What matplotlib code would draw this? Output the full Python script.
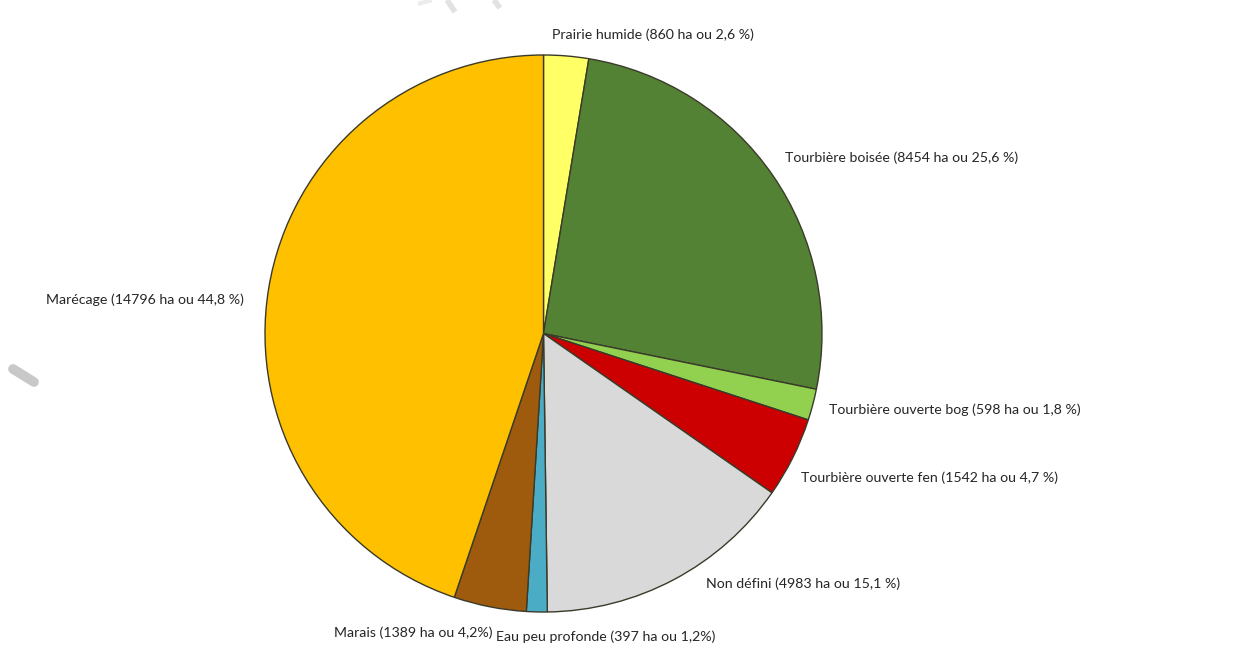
import matplotlib
matplotlib.use("Agg")
import matplotlib.pyplot as plt

categories = ["Prairie humide", "Tourbière boisée", "Tourbière ouverte bog",
              "Tourbière ouverte fen", "Non défini", "Eau peu profonde",
              "Marais", "Marécage"]
hectares = [860, 8454, 598, 1542, 4983, 397, 1389, 14796]
pct_labels = ["2,6 %", "25,6 %", "1,8 %", "4,7 %", "15,1 %", "1,2%", "4,2%", "44,8 %"]
colors = ["#FFFF66", "#548235", "#92D050", "#CC0000", "#D9D9D9", "#4BACC6",
          "#9E5B0E", "#FFC000"]

W, H = 1258, 654
fig = plt.figure(figsize=(W / 100, H / 100), dpi=100)
ax = fig.add_axes([0, 0, 1, 1])

# faint watermark strokes (behind everything)
wm = [((13, 369), (34, 382), 7, "#c8c8c8", "round"),
      ((418, 4), (432, 0), 3, "#ececec", "butt"),
      ((447, 0), (455, 12), 4, "#e2e2e2", "butt"),
      ((494, 0), (500, 8), 4, "#e2e2e2", "butt")]
for (x0, y0), (x1, y1), lw, c, cap in wm:
    ax.plot([x0, x1], [H - y0, H - y1], color=c, lw=lw, solid_capstyle=cap, zorder=0)

cx, cy, r = 543.5, H - 333.5, 278.5
ax.pie(hectares, colors=colors, startangle=90, counterclock=False,
       center=(cx, cy), radius=r, frame=True,
       wedgeprops=dict(edgecolor="#3a3a2a", linewidth=1.0))
ax.set_xlim(0, W)
ax.set_ylim(0, H)
ax.axis("off")

# label anchor positions (left edge, vertical centre) in pixel layout
label_pos = [(552, 35), (785, 158), (829, 410), (801, 478), (706, 584),
             (496, 637), (334, 633), (46, 300)]
for cat, ha_, pct, (lx, ly) in zip(categories, hectares, pct_labels, label_pos):
    ax.text(lx, H - ly, f"{cat} ({ha_} ha ou {pct})", ha="left", va="center",
            fontsize=10.2, family="Lato", color="#262626")

fig.savefig("out.png", dpi=100)
